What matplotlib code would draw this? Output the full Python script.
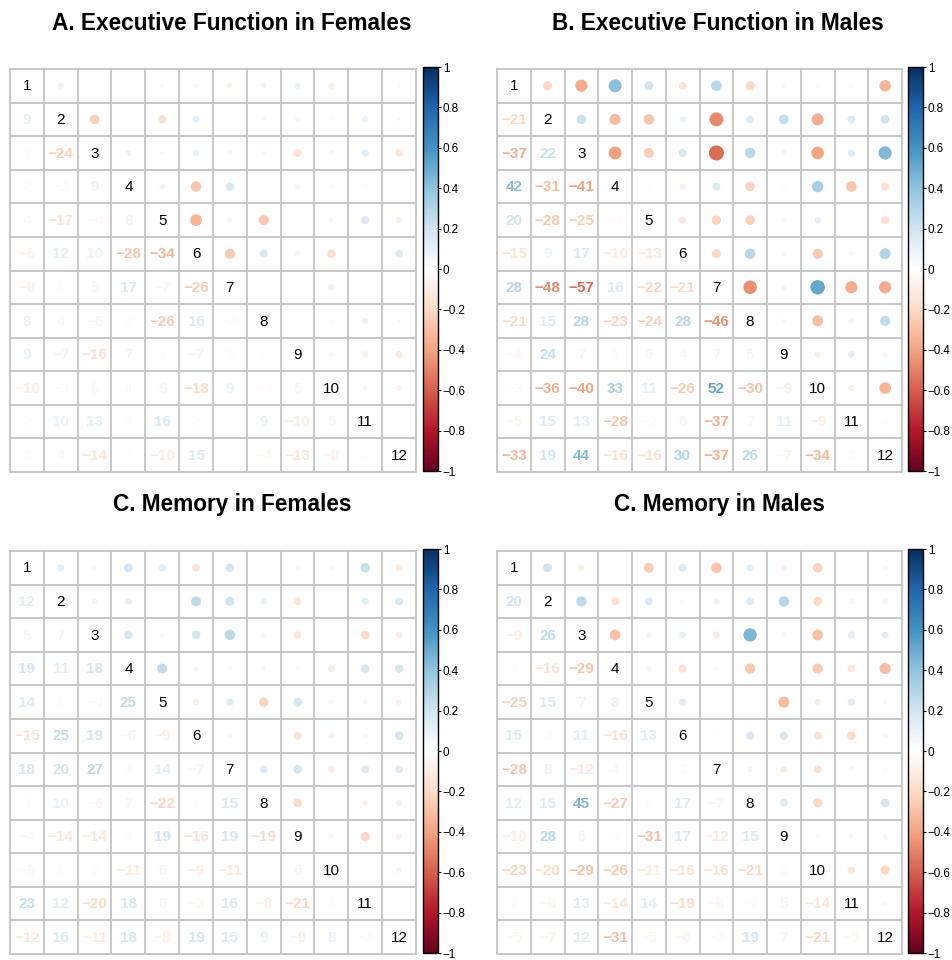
import numpy as np
import matplotlib
matplotlib.use("Agg")
import matplotlib.pyplot as plt
from matplotlib.colors import LinearSegmentedColormap, Normalize
from matplotlib.cm import ScalarMappable

plt.rcParams['font.family'] = ['Liberation Sans', 'DejaVu Sans']

# lower triangles of the correlation matrices (x100), row i holds columns 1..i-1
ef_females = [
    [9],
    [1, -24],
    [2, -3, 9],
    [4, -17, -4, 8],
    [-6, 12, 10, -28, -34],
    [-8, 1, 5, 17, -7, -26],
    [8, 4, -6, 2, -26, 16, -3],
    [9, -7, -16, 7, 1, -7, 2, 1],
    [-10, -3, 6, 4, 6, -18, 9, -3, 5],
    [2, 10, 13, 3, 16, 2, 0, 9, -10, 5],
    [3, 4, -14, 1, -10, 15, 0, -4, -13, -8, 1],
]
ef_males = [
    [-21],
    [-37, 22],
    [42, -31, -41],
    [20, -28, -25, -3],
    [-15, 9, 17, -10, -13],
    [28, -48, -57, 16, -22, -21],
    [-21, 15, 28, -23, -24, 28, -46],
    [-4, 24, 7, 3, 6, 4, 7, 5],
    [-3, -36, -40, 33, 11, -26, 52, -30, -9],
    [-5, 15, 13, -28, -2, 6, -37, 7, 11, -9],
    [-33, 19, 44, -16, -16, 30, -37, 26, -7, -34, 3],
]
mem_females = [
    [12],
    [5, 7],
    [19, 11, 18],
    [14, 1, -4, 25],
    [-15, 25, 19, -6, -9],
    [18, 20, 27, 3, 14, -7],
    [3, 10, -6, 7, -22, 1, 15],
    [-4, -14, -14, 3, 19, -16, 19, -19],
    [-5, 1, 2, -11, 6, -9, -11, 0, 6],
    [23, 12, -20, 18, 6, -5, 16, -8, -21, 1],
    [-12, 16, -11, 18, -8, 19, 15, 9, -9, 8, -3],
]
mem_males = [
    [20],
    [-9, 26],
    [2, -16, -29],
    [-25, 15, 7, 8],
    [15, 3, 11, -16, 13],
    [-28, 8, -12, 4, 0, 3],
    [12, 15, 45, -27, 2, 17, -7],
    [-10, 28, 6, -2, -31, 17, -12, 15],
    [-23, -20, -29, -26, -11, -16, -16, -21, 3],
    [2, -6, 13, -14, 14, -19, -6, -2, 5, -14],
    [-5, -7, 12, -31, -5, -6, -3, 19, 7, -21, -5],
]

titles = ["A. Executive Function in Females", "B. Executive Function in Males",
          "C. Memory in Females", "C. Memory in Males"]
labels = [str(i) for i in range(1, 13)]

cmap = LinearSegmentedColormap.from_list("rdbu2", [
    "#67001F", "#B2182B", "#D6604D", "#F4A582", "#FDDBC7", "#FFFFFF",
    "#D1E5F0", "#92C5DE", "#4393C3", "#2166AC", "#053061"])
norm = Normalize(-1, 1)


def full_matrix(lower):
    n = len(lower) + 1
    m = np.eye(n)
    for i, row in enumerate(lower, start=1):
        for j, v in enumerate(row):
            m[i, j] = v / 100
            m[j, i] = v / 100
    return m


W, H = 953, 960
fig = plt.figure(figsize=(W / 100, H / 100), dpi=100)

# pixel boxes: grid left, grid right, top, bottom, colorbar left, title x, title y
boxes = [
    (10, 416, 69, 472, 423, 232, 23),
    (497, 902, 69, 472, 908, 718, 23),
    (10, 416, 551, 954, 423, 232, 505),
    (497, 902, 551, 954, 908, 719, 505),
]

for lower, title, (x0, x1, y0, y1, cx, tx, ty) in zip(
        [ef_females, ef_males, mem_females, mem_males], titles, boxes):
    m = full_matrix(lower)
    n = m.shape[0]
    ax = fig.add_axes([x0 / W, 1 - y1 / H, (x1 - x0) / W, (y1 - y0) / H])
    ax.set_xlim(0, n)
    ax.set_ylim(n, 0)
    ax.axis('off')
    for k in range(n + 1):
        ax.axhline(k, color='#c4c4c4', lw=1.3, clip_on=False, zorder=1)
        ax.axvline(k, color='#c4c4c4', lw=1.3, clip_on=False, zorder=1)

    # upper triangle circles
    xs, ys, vals = [], [], []
    for i in range(n):
        for j in range(i + 1, n):
            xs.append(j + 0.5)
            ys.append(i + 0.5)
            vals.append(m[i, j])
    vals = np.array(vals)
    ax.scatter(xs, ys, s=207 * np.abs(vals), c=cmap(norm(vals)),
               linewidths=0, zorder=2)

    # diagonal labels and lower numbers
    for i in range(n):
        ax.text(i + 0.5, i + 0.52, labels[i], ha='center', va='center',
                fontsize=11, color='black', zorder=3)
        for j in range(i):
            v = m[i, j]
            s = f"{int(round(v * 100))}".replace('-', '\u2212')
            ax.text(j + 0.5, i + 0.52, s, ha='center', va='center',
                    fontsize=11, fontweight='bold', color=cmap(norm(v)), zorder=3)

    fig.text(tx / W, 1 - ty / H, title, ha='center', va='center',
             fontsize=16.3, fontweight='bold')

    cax = fig.add_axes([cx / W, 1 - (y1 - 1) / H, 15 / W, (y1 - y0 + 1) / H])
    cb = fig.colorbar(ScalarMappable(norm=norm, cmap=cmap), cax=cax,
                      ticks=np.linspace(-1, 1, 11))
    cb.ax.set_yticklabels([f"{t:g}".replace('-', '\u2212') for t in
                           np.round(np.linspace(-1, 1, 11), 1)])
    cb.ax.tick_params(labelsize=8.4, length=2.5, width=0.8, pad=1)
    cb.outline.set_linewidth(1)

fig.savefig("out.png", dpi=100)
